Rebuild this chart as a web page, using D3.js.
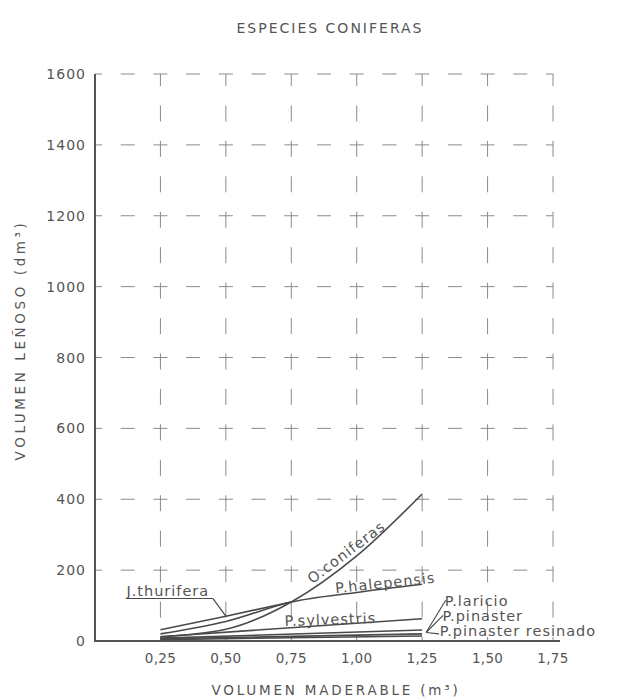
<!DOCTYPE html>
<html><head><meta charset="utf-8">
<script src="https://cdn.jsdelivr.net/npm/d3@7"></script>
<style>
html,body{margin:0;padding:0;background:#fff;}
svg text{font-family:"DejaVu Sans",sans-serif;fill:#555;}
</style></head>
<body><svg id="c" width="619" height="700"></svg>
<script>
// ---- data ----
const title = "ESPECIES CONIFERAS";
const xTitle = "VOLUMEN  MADERABLE (m³)";
const yTitle = "VOLUMEN  LEÑOSO (dm³)";
const xTicks = [0.25, 0.5, 0.75, 1.0, 1.25, 1.5, 1.75];
const xTickLabels = ["0,25", "0,50", "0,75", "1,00", "1,25", "1,50", "1,75"];
const yTicks = [0, 200, 400, 600, 800, 1000, 1200, 1400, 1600];
const seriesNames = ["J.thurifera", "O.coniferas", "P.halepensis", "P.sylvestris", "P.laricio", "P.pinaster", "P.pinaster resinado"];
const jThurifera   = [[0.25, 32], [0.5, 70], [0.75, 110]];
const oConiferas   = [[0.25, 12], [0.5, 33], [0.75, 110], [1.0, 240], [1.25, 415]];
const pHalepensis  = [[0.25, 20], [0.5, 55], [0.75, 110], [1.0, 137], [1.25, 160]];
const pSylvestris  = [[0.25, 12], [1.25, 63]];
const pLaricio     = [[0.25, 8], [1.25, 31]];
const pPinaster    = [[0.25, 6], [1.25, 20]];
const pPinasterRes = [[0.25, 4], [1.25, 14]];

// ---- scales ----
const svg = d3.select("#c");
const x = d3.scaleLinear().domain([0, 1.75]).range([95, 553]);
const y = d3.scaleLinear().domain([0, 1600]).range([641, 74]);
const ink = "#4a4a4a", gridC = "#8a8a8a";

// grid
const hPeriod = x(0.125) - x(0);
const vPeriod = y(0) - y(100);
svg.append("g").selectAll("line").data(yTicks.filter(d => d > 0)).join("line")
  .attr("x1", x(0)).attr("x2", x(1.75)).attr("y1", d => y(d)).attr("y2", d => y(d))
  .attr("stroke", gridC).attr("stroke-width", 1)
  .attr("stroke-dasharray", `14 ${hPeriod - 14}`).attr("stroke-dashoffset", 7);
svg.append("g").selectAll("line").data(xTicks).join("line")
  .attr("x1", d => x(d)).attr("x2", d => x(d)).attr("y1", y(1600)).attr("y2", y(0))
  .attr("stroke", gridC).attr("stroke-width", 1)
  .attr("stroke-dasharray", `16 ${vPeriod - 16}`).attr("stroke-dashoffset", 4);

// axes
svg.append("line").attr("x1", x(0)).attr("x2", x(0)).attr("y1", y(1600)).attr("y2", y(0))
  .attr("stroke", "#555").attr("stroke-width", 2);
svg.append("line").attr("x1", x(0) - 1).attr("x2", x(1.75) + 7).attr("y1", y(0)).attr("y2", y(0))
  .attr("stroke", "#555").attr("stroke-width", 2);

// tick labels
svg.append("g").selectAll("text").data(yTicks).join("text")
  .attr("x", 86).attr("y", d => y(d)).attr("dy", "0.36em").attr("text-anchor", "end")
  .attr("font-size", 14).attr("letter-spacing", 1).text(d => d);
svg.append("g").selectAll("text").data(xTicks).join("text")
  .attr("x", d => x(d)).attr("y", 658).attr("dy", "0.36em").attr("text-anchor", "middle")
  .attr("font-size", 13.5).attr("letter-spacing", 0.3).text((d, i) => xTickLabels[i]);

// titles
svg.append("text").attr("x", 330).attr("y", 28).attr("dy", "0.36em").attr("text-anchor", "middle")
  .attr("font-size", 14).attr("letter-spacing", 2).text(title);
svg.append("text").attr("x", 336).attr("y", 690).attr("dy", "0.36em").attr("text-anchor", "middle")
  .attr("font-size", 13.5).attr("letter-spacing", 2.8).text(xTitle);
svg.append("text").attr("transform", "translate(20,340) rotate(-90)").attr("dy", "0.36em")
  .attr("text-anchor", "middle").attr("font-size", 13.5).attr("letter-spacing", 3.6).text(yTitle);

// curves
const lineGen = d3.line().x(d => x(d[0])).y(d => y(d[1])).curve(d3.curveMonotoneX);
const allSeries = [jThurifera, oConiferas, pHalepensis, pSylvestris, pLaricio, pPinaster, pPinasterRes];
svg.append("g").selectAll("path").data(allSeries).join("path")
  .attr("d", lineGen).attr("fill", "none").attr("stroke", ink).attr("stroke-width", 1.6);

// labels
const lab = svg.append("g").attr("font-size", 14.5).attr("letter-spacing", 1);
function label(name, xv, yv, rot) {
  lab.append("text").attr("transform", `translate(${x(xv)},${y(yv)}) rotate(${rot})`).text(name);
}
label(seriesNames[0], 0.12, 128, 0);
svg.append("line").attr("x1", x(0.12)).attr("x2", x(0.45)).attr("y1", y(120)).attr("y2", y(120))
  .attr("stroke", ink).attr("stroke-width", 1.2);
svg.append("line").attr("x1", x(0.45)).attr("y1", y(120)).attr("x2", x(0.5)).attr("y2", y(70))
  .attr("stroke", ink).attr("stroke-width", 1.2);
label(seriesNames[1], 0.83, 160, -37);
label(seriesNames[2], 0.92, 135, -6);
label(seriesNames[3], 0.725, 42, -2);
label(seriesNames[4], 1.336, 99, 0);
label(seriesNames[5], 1.328, 56, 0);
label(seriesNames[6], 1.317, 14, 0);
// leaders to the line ends
const leaderEnd = [1.265, 24];
[[1.34, 115], [1.33, 72], [1.315, 20]].forEach(p => {
  svg.append("line").attr("x1", x(p[0])).attr("y1", y(p[1])).attr("x2", x(leaderEnd[0])).attr("y2", y(leaderEnd[1]))
    .attr("stroke", ink).attr("stroke-width", 1.1);
});
</script></body></html>
